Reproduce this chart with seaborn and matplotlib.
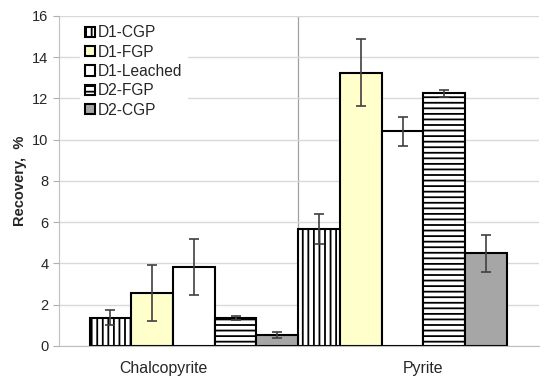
import numpy as np
import pandas as pd
import seaborn as sns
import matplotlib
matplotlib.use("Agg")
import matplotlib.pyplot as plt
from matplotlib.patches import Patch

minerals = ["Chalcopyrite", "Pyrite"]
series = ["D1-CGP", "D1-FGP", "D1-Leached", "D2-FGP", "D2-CGP"]
values = {
    "D1-CGP": [1.37, 5.66],
    "D1-FGP": [2.57, 13.25],
    "D1-Leached": [3.83, 10.40],
    "D2-FGP": [1.34, 12.25],
    "D2-CGP": [0.52, 4.50],
}
errors = {
    "D1-CGP": [0.37, 0.72],
    "D1-FGP": [1.34, 1.64],
    "D1-Leached": [1.34, 0.72],
    "D2-FGP": [0.10, 0.18],
    "D2-CGP": [0.15, 0.90],
}
colors = {"D1-CGP": "white", "D1-FGP": "#FFFFCC", "D1-Leached": "white",
          "D2-FGP": "white", "D2-CGP": "#A6A6A6"}
hatches = {"D1-CGP": "|||", "D1-FGP": "", "D1-Leached": "", "D2-FGP": "---", "D2-CGP": ""}

rows = []
for s in series:
    for m, v in zip(minerals, values[s]):
        rows.append({"Mineral": m, "Series": s, "Recovery": v})
df = pd.DataFrame(rows)

sns.set_style("white")
plt.rcParams["font.family"] = ["Liberation Sans", "DejaVu Sans"]
plt.rcParams["hatch.linewidth"] = 1.3

fig = plt.figure(figsize=(5.5, 3.87), dpi=100)
ax = fig.add_axes([0.107, 0.106, 0.873, 0.853])

group_w = 1.0
sns.barplot(data=df, x="Mineral", y="Recovery", hue="Series", order=minerals,
            hue_order=series, palette=colors, width=group_w, gap=0,
            errorbar=None, edgecolor="black", linewidth=1.5, ax=ax, legend=False,
            saturation=1)

for s, cont in zip(series, ax.containers):
    for i, p in enumerate(cont.patches):
        p.set_hatch(hatches[s])
        p.set_edgecolor("black")
        p.set_facecolor(colors[s])
        cx = p.get_x() + p.get_width() / 2
        ax.errorbar(cx, p.get_height(), yerr=errors[s][i], fmt="none",
                    ecolor="#404040", elinewidth=1.2, capsize=3.5, capthick=1.2, zorder=5)

ax.set_xlim(-0.647, 1.654)
ax.set_xticks([-0.144, 1.10])
ax.set_xticklabels(minerals, fontsize=11.4)
ax.tick_params(axis="x", length=0, pad=11)
ax.axvline(0.5, color="#A0A0A0", linewidth=0.9, zorder=0)

ax.set_ylim(0, 16)
ax.set_yticks(range(0, 17, 2))
ax.tick_params(axis="y", labelsize=10.5, length=4, color="#B0B0B0", direction="out", left=True)
ax.yaxis.grid(True, color="#D9D9D9", linewidth=1)
ax.set_axisbelow(True)
ax.set_xlabel("")
ax.set_ylabel("Recovery,  %", fontsize=10.5, fontweight="bold")

for sp in ["top", "right"]:
    ax.spines[sp].set_visible(False)
ax.spines["left"].set_color("#BFBFBF")
ax.spines["bottom"].set_color("#BFBFBF")

handles = [Patch(facecolor=colors[s], edgecolor="black", hatch=hatches[s], linewidth=1.5) for s in series]
leg = ax.legend(handles, series, loc="upper left", bbox_to_anchor=(0.035, 1.0),
                frameon=True, fontsize=11.2, handlelength=0.65, handleheight=0.65,
                handletextpad=0.2, labelspacing=0.28, borderpad=0.3, borderaxespad=0.3)
leg.get_frame().set_edgecolor("white")
leg.get_frame().set_facecolor("white")
leg.get_frame().set_alpha(1)

fig.savefig("out.png", dpi=100)
